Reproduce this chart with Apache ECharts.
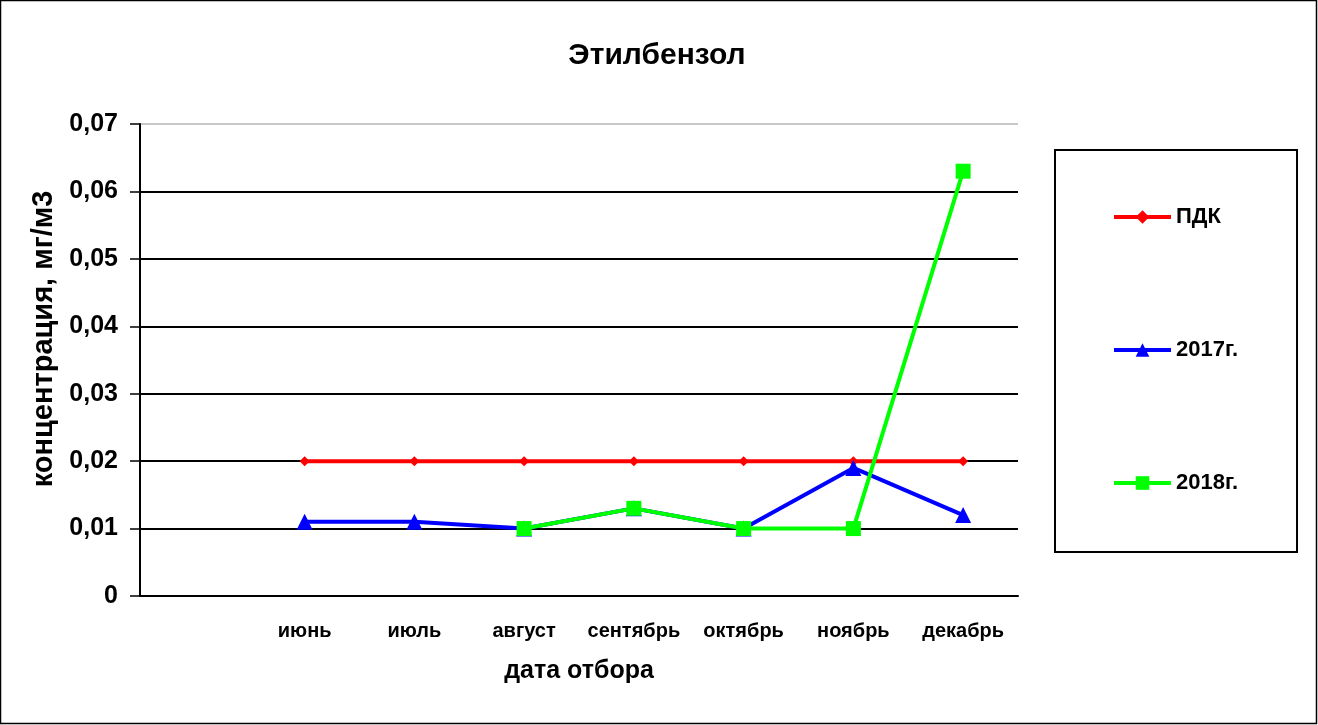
<!DOCTYPE html>
<html>
<head>
<meta charset="utf-8">
<script src="https://cdn.jsdelivr.net/npm/echarts@6/dist/echarts.min.js"></script>
<style>
  html, body { margin: 0; padding: 0; background: #fff; }
  #chart { width: 1318px; height: 725px; }
</style>
</head>
<body>
<div id="chart"></div>
<script>
// данные
var months = ["", "июнь", "июль", "август", "сентябрь", "октябрь", "ноябрь", "декабрь"];
var pdk = [null, 0.02, 0.02, 0.02, 0.02, 0.02, 0.02, 0.02];
var y2017 = [null, 0.011, 0.011, 0.010, 0.013, 0.010, 0.019, 0.012];
var y2018 = [null, null, null, 0.010, 0.013, 0.010, 0.010, 0.063];

var font = "'Liberation Sans', Arial, sans-serif";

var myChart = echarts.init(document.getElementById("chart"));

var option = {
  animation: false,
  textStyle: { fontFamily: font },
  title: {
    text: "Этилбензол",
    left: 652,
    textAlign: "center",
    top: 36,
    textStyle: { fontSize: 30, fontWeight: "bold", color: "#000", fontFamily: font },
  },
  graphic: [
    {
      type: "rect",
      shape: { x: 0.5, y: 0.5, width: 1316, height: 723 },
      style: { fill: "none", stroke: "#000", lineWidth: 1.5 },
      silent: true,
    },
  ],
  legend: {
    orient: "vertical",
    left: 1055,
    top: 150,
    padding: [56, 59, 58, 57],
    itemGap: 111,
    itemWidth: 57,
    itemHeight: 17,
    borderColor: "#000",
    borderWidth: 2,
    lineStyle: { width: 4 },
    textStyle: { fontSize: 22, fontWeight: "bold", color: "#000", fontFamily: font },
    data: ["ПДК", "2017г.", "2018г."],
  },
  grid: { left: 140, right: 300, top: 124, bottom: 129 },
  xAxis: {
    type: "category",
    data: months,
    name: "дата отбора",
    nameLocation: "middle",
    nameGap: 63,
    nameTextStyle: { fontSize: 25, fontWeight: "bold", color: "#000" },
    axisLine: { lineStyle: { color: "#000", width: 2 } },
    axisTick: { length: 8, lineStyle: { color: "#000", width: 1.5 } },
    axisLabel: {
      margin: 25,
      fontSize: 20,
      fontWeight: "bold",
      color: "#000",
      interval: 0,
    },
  },
  yAxis: {
    type: "value",
    min: 0,
    max: 0.07,
    interval: 0.01,
    name: "концентрация, мг/м3",
    nameLocation: "middle",
    nameRotate: 90,
    nameGap: 82,
    nameTextStyle: { fontSize: 29, fontWeight: "bold", color: "#000", padding: [0, 0, 0, 42] },
    axisLine: { show: true, lineStyle: { color: "#000", width: 2 } },
    axisTick: { show: true, length: 10, lineStyle: { color: "#000", width: 1.5 } },
    axisLabel: {
      margin: 22,
      fontSize: 25,
      fontWeight: "bold",
      color: "#000",
      formatter: function (v) {
        if (v === 0) return "0";
        return v.toFixed(2).replace(".", ",");
      },
    },
    splitLine: {
      show: true,
      lineStyle: {
        color: ["#000", "#000", "#000", "#000", "#000", "#000", "#000", "#c8c8c8"],
        width: 2,
      },
    },
  },
  series: [
    {
      name: "ПДК",
      type: "line",
      data: pdk,
      symbol: "diamond",
      symbolSize: 10,
      color: "#ff0000",
      lineStyle: { width: 4, color: "#ff0000" },
      itemStyle: { color: "#ff0000" },
      z: 3,
    },
    {
      name: "2017г.",
      type: "line",
      data: y2017,
      symbol: "triangle",
      symbolSize: 16,
      color: "#0000ff",
      lineStyle: { width: 4, color: "#0000ff" },
      itemStyle: { color: "#0000ff" },
      z: 4,
    },
    {
      name: "2018г.",
      type: "line",
      data: y2018,
      symbol: "rect",
      symbolSize: 15,
      color: "#00ff00",
      lineStyle: { width: 4, color: "#00ff00" },
      itemStyle: { color: "#00ff00" },
      z: 5,
    },
  ],
};

myChart.setOption(option);
</script>
</body>
</html>
